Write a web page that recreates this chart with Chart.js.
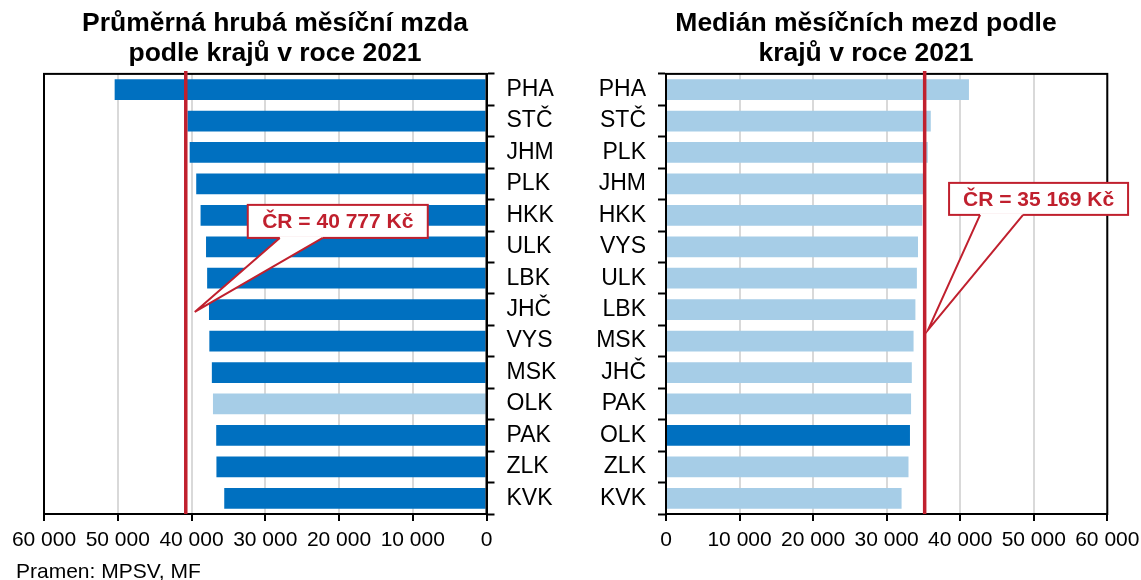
<!DOCTYPE html>
<html lang="cs">
<head>
<meta charset="utf-8">
<script src="https://cdn.jsdelivr.net/npm/chart.js@4.4.0/dist/chart.umd.min.js"></script>
<style>
	html, body { margin: 0; padding: 0; background: #fff; width: 1141px; height: 580px; overflow: hidden; position: relative; }
	canvas { position: absolute; top: 0; }
	#avg-chart { left: -7px; }
	#median-chart { left: 591px; }
	.source { position: absolute; left: 16px; top: 560px; font: 21px/21px "Liberation Sans", Arial, sans-serif; color: #000; white-space: nowrap; }
</style>
</head>
<body>
<canvas id="avg-chart" width="564" height="560"></canvas>
<canvas id="median-chart" width="550" height="560"></canvas>
<div class="source">Pramen: MPSV, MF</div>

<script>
var FONT = '"Liberation Sans", Arial, sans-serif';
var DARK = '#0070c0';
var LIGHT = '#a6cde7';
var RED = '#c0202e';

// průměrná mzda
var avgRegions = ['PHA', 'STČ', 'JHM', 'PLK', 'HKK', 'ULK', 'LBK', 'JHČ', 'VYS', 'MSK', 'OLK', 'PAK', 'ZLK', 'KVK'];
var avgWages = [50420, 40540, 40250, 39360, 38770, 38030, 37880, 37630, 37580, 37240, 37090, 36650, 36620, 35560];
var avgCR = 40777;

// medián
var medRegions = ['PHA', 'STČ', 'PLK', 'JHM', 'HKK', 'VYS', 'ULK', 'LBK', 'MSK', 'JHČ', 'PAK', 'OLK', 'ZLK', 'KVK'];
var medWages = [41190, 36000, 35590, 35100, 34850, 34260, 34110, 33910, 33660, 33420, 33320, 33170, 32970, 32030];
var medCR = 35169;

var highlightRegion = 'OLK';
var xMax = 60000;
var xStep = 10000;

function fmt(v) {
	return String(v).replace(/\B(?=(\d{3})+(?!\d))/g, ' ');
}

// ramecek grafu, cara CR a popisek
var crPlugin = {
	id: 'crLine',
	afterDatasetsDraw: function (chart, args, opts) {
		var ctx = chart.ctx;
		var area = chart.chartArea;
		var px = chart.scales.x.getPixelForValue(opts.value);

		ctx.save();
		ctx.strokeStyle = '#000';
		ctx.lineWidth = 2;
		ctx.strokeRect(area.left, area.top, area.right - area.left, area.bottom - area.top);

		ctx.strokeStyle = RED;
		ctx.lineWidth = 3.5;
		ctx.beginPath();
		ctx.moveTo(px, area.top - 3);
		ctx.lineTo(px, area.bottom);
		ctx.stroke();

		var bx = px + opts.boxDx, by = area.top + opts.boxDy;
		var bw = opts.boxW, bh = opts.boxH;
		var tipX = px + opts.tipDx, tipY = area.top + opts.tipDy;

		ctx.lineWidth = 2;
		ctx.fillStyle = '#fff';
		ctx.fillRect(bx, by, bw, bh);
		ctx.strokeRect(bx, by, bw, bh);

		ctx.beginPath();
		ctx.moveTo(bx + opts.base1, by + bh - 1.5);
		ctx.lineTo(bx + opts.base1, by + bh);
		ctx.lineTo(tipX, tipY);
		ctx.lineTo(bx + opts.base2, by + bh);
		ctx.lineTo(bx + opts.base2, by + bh - 1.5);
		ctx.closePath();
		ctx.fill();

		ctx.beginPath();
		ctx.moveTo(bx + opts.base1, by + bh);
		ctx.lineTo(tipX, tipY);
		ctx.lineTo(bx + opts.base2, by + bh);
		ctx.stroke();

		ctx.fillStyle = RED;
		ctx.font = 'bold 21px ' + FONT;
		ctx.textAlign = 'center';
		ctx.textBaseline = 'middle';
		ctx.fillText('ČR = ' + fmt(opts.value) + ' Kč', bx + bw / 2, by + bh / 2 + 1);
		ctx.restore();
	}
};

function barColors(labels, main, other) {
	return labels.map(function (l) { return l === highlightRegion ? other : main; });
}

// prazdna osa jen kvuli mistu vedle grafu (titulek zustane na stredu platna)
function spacer(pos, w) {
	return {
		type: 'linear',
		axis: 'y',
		position: pos,
		grid: { display: false },
		border: { display: false },
		ticks: { display: false },
		afterFit: function (s) { s.width = w; }
	};
}

function makeChart(id, cfg) {
	var scales = {
		x: {
			min: 0,
			max: xMax,
			reverse: cfg.reverse,
			grid: { color: '#d9d9d9', lineWidth: 2, tickColor: '#000', tickLength: 7, tickWidth: 2 },
			border: { color: '#000', width: 2 },
			ticks: {
				stepSize: xStep,
				padding: 7,
				color: '#000',
				maxRotation: 0,
				font: { family: FONT, size: 21 },
				callback: function (v) { return fmt(v); }
			},
			afterFit: function (s) {
				s.height = 46;
				s.paddingLeft = 0;
				s.paddingRight = 0;
			}
		},
		y: {
			position: cfg.yPos,
			grid: { offset: true, drawOnChartArea: false, tickColor: '#000', tickLength: 8, tickWidth: 2 },
			border: { color: '#000', width: 2 },
			ticks: { padding: 12, color: '#000', font: { family: FONT, size: 23 } },
			afterFit: function (s) { s.width = cfg.yWidth; }
		},
		pad: spacer(cfg.padPos, cfg.padWidth)
	};

	return new Chart(id, {
		type: 'bar',
		data: {
			labels: cfg.labels,
			datasets: [{
				data: cfg.values,
				backgroundColor: barColors(cfg.labels, cfg.main, cfg.other),
				borderWidth: 0,
				barPercentage: 0.66,
				categoryPercentage: 1
			}]
		},
		options: {
			indexAxis: 'y',
			responsive: false,
			animation: false,
			devicePixelRatio: 1,
			layout: { padding: 0 },
			scales: scales,
			plugins: {
				legend: { display: false },
				tooltip: { enabled: false },
				title: {
					display: true,
					text: cfg.title,
					color: '#000',
					font: { family: FONT, size: 26.5, weight: 'bold', lineHeight: 1.13 },
					padding: { top: 9, bottom: 5 }
				},
				crLine: cfg.callout
			}
		},
		plugins: [crPlugin]
	});
}

makeChart('avg-chart', {
	labels: avgRegions,
	values: avgWages,
	main: DARK,
	other: LIGHT,
	reverse: true,
	yPos: 'right',
	yWidth: 70.5,
	padPos: 'left',
	padWidth: 51,
	title: ['Průměrná hrubá měsíční mzda', 'podle krajů v roce 2021'],
	callout: { value: avgCR, boxDx: 62, boxDy: 131, boxW: 180, boxH: 33, base1: 32, base2: 75, tipDx: 9, tipDy: 238 }
});

makeChart('median-chart', {
	labels: medRegions,
	values: medWages,
	main: LIGHT,
	other: DARK,
	reverse: false,
	yPos: 'left',
	yWidth: 75,
	padPos: 'right',
	padWidth: 33.7,
	title: ['Medián měsíčních mezd podle', 'krajů v roce 2021'],
	callout: { value: medCR, boxDx: 24.4, boxDy: 109, boxW: 179, boxH: 32, base1: 31, base2: 74, tipDx: 3.4, tipDy: 256 }
});
</script>
</body>
</html>
